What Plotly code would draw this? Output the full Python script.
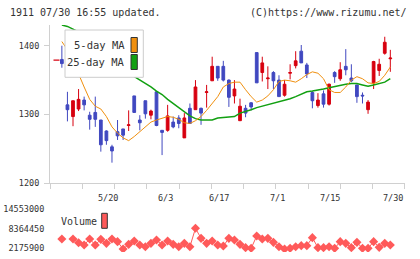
import plotly.graph_objects as go

# ---------------- data ----------------
idx = list(range(1, 61))
opens = [1380, 1314, 1297, 1308, 1321, 1299, 1303, 1292, 1276, 1253,
         1275, 1279, 1284, 1327, 1292, 1320, 1299, 1333, 1277, 1277,
         1289, 1295, 1266, 1309, 1307, 1309, 1332, 1349, 1370, 1370,
         1350, 1327, 1291, 1309, 1317, 1390, 1361, 1352, 1361, 1350,
         1328, 1360, 1371, 1392, 1372, 1332, 1313, 1330, 1315, 1361,
         1352, 1370, 1353, 1343, 1328, 1307, 1346, 1364, 1389, 1381]
highs = [1400, 1333, 1320, 1337, 1326, 1304, 1326, 1292, 1277, 1256,
         1292, 1279, 1306, 1327, 1299, 1320, 1307, 1334, 1277, 1314,
         1297, 1299, 1302, 1316, 1350, 1310, 1343, 1384, 1370, 1378,
         1351, 1350, 1323, 1314, 1318, 1390, 1384, 1370, 1363, 1357,
         1350, 1373, 1392, 1401, 1375, 1334, 1331, 1335, 1345, 1363,
         1376, 1395, 1373, 1343, 1332, 1321, 1378, 1381, 1413, 1394]
lows = [1368, 1290, 1283, 1305, 1306, 1278, 1282, 1246, 1256, 1230,
        1263, 1263, 1276, 1303, 1277, 1294, 1293, 1283, 1241, 1275,
        1280, 1280, 1266, 1287, 1307, 1285, 1310, 1349, 1349, 1348,
        1311, 1316, 1291, 1296, 1306, 1346, 1348, 1337, 1337, 1326,
        1326, 1351, 1367, 1375, 1353, 1309, 1310, 1310, 1313, 1346,
        1349, 1357, 1347, 1317, 1316, 1301, 1337, 1356, 1387, 1362]
closes = [1374, 1307, 1320, 1322, 1314, 1293, 1293, 1256, 1262, 1247,
          1269, 1270, 1285, 1303, 1288, 1301, 1305, 1284, 1274, 1298,
          1282, 1287, 1295, 1287, 1340, 1302, 1333, 1370, 1353, 1350,
          1325, 1337, 1312, 1302, 1311, 1346, 1375, 1353, 1349, 1326,
          1344, 1361, 1378, 1375, 1359, 1320, 1321, 1315, 1344, 1355,
          1365, 1365, 1349, 1326, 1327, 1318, 1377, 1373, 1405, 1382]
ma5 = [1406, 1394, 1378, 1358, 1340, 1322, 1312, 1308, 1297, 1282,
       1273, 1266, 1262, 1268, 1275, 1283, 1289, 1292, 1295, 1297,
       1296, 1293, 1288, 1287, 1291, 1297, 1306, 1316, 1326, 1340,
       1345, 1347, 1347, 1336, 1326, 1318, 1321, 1327, 1336, 1348,
       1350, 1349, 1347, 1352, 1358, 1362, 1360, 1352, 1336, 1332,
       1332, 1340, 1350, 1355, 1352, 1346, 1345, 1348, 1357, 1369]
ma25 = [1430, 1428, 1424, 1420, 1414, 1407, 1400, 1393, 1386, 1379,
        1372, 1366, 1360, 1355, 1351, 1346, 1340, 1334, 1329, 1322,
        1316, 1310, 1304, 1298, 1294, 1292, 1292, 1292, 1295, 1296,
        1296, 1297, 1302, 1304, 1307, 1310, 1312, 1314, 1317, 1318,
        1320, 1323, 1326, 1329, 1333, 1334, 1335, 1337, 1339, 1341,
        1342, 1344, 1345, 1345, 1343, 1341, 1343, 1345, 1347, 1352]
volume = [5170000, None, 5170000, 4010000, 3280000, 5170000, 3280000, 5060000, 3800000, 5170000,
          4330000, 2020000, 3490000, 4540000, 3280000, 2750000, 3800000, 4850000, 3280000, 4540000,
          3490000, 2750000, 3800000, 2750000, 8530000, 5380000, 3800000, 4540000, 3280000, 2960000,
          5380000, 4850000, 3490000, 2440000, 2230000, 6110000, 5170000, 5380000, 4120000, 2750000,
          2020000, 2230000, 2750000, 3070000, 3070000, 5590000, 2440000, 2440000, 2750000, 2230000,
          4330000, 3800000, 2440000, 4120000, 2230000, 2230000, 4330000, 2540000, 3800000, 3280000]
current_price = 1379
date_labels = ["5/20", "6/3", "6/17", "7/1", "7/15", "7/30"]
date_label_idx = [11, 21, 31, 41, 51, 60]
price_ticks = [1200, 1300, 1400]
volume_ticks = [2175900, 8364450, 14553000]
title_left = "1911 07/30 16:55 updated."
title_right = "(C)https://www.rizumu.net/"
legend_names = ["5-day MA", "25-day MA"]

# ---------------- style ----------------
W, H = 420, 259
FONT = "DejaVu Sans Mono"
TXT = "#333333"
AX = "#d0d0d0"
RED = "#d7000f"
BLUE = "#4048c0"
ORANGE = "#f0900f"
GREEN = "#12a012"
VOLC = "#ff5a5a"

def fx(px):
    return px / W

def fy(py):
    return 1 - py / H

step = 5.567
x_lo = (50 - 56.3) / step
x_hi = (405 - 56.3) / step
grid_ticks = [x_lo + k * (x_hi - x_lo) / 11 for k in range(12)]
grid_ticks[0] += 0.001
grid_ticks[-1] -= 0.001

fig = go.Figure()
fig.add_trace(go.Scatter(x=idx, y=ma25, mode="lines", line=dict(color=GREEN, width=1.5),
                         hoverinfo="skip", showlegend=False))
fig.add_trace(go.Scatter(x=idx, y=ma5, mode="lines", line=dict(color=ORANGE, width=1),
                         hoverinfo="skip", showlegend=False))
fig.add_trace(go.Candlestick(x=idx, open=opens, high=highs, low=lows, close=closes,
                             increasing=dict(line=dict(color=RED, width=1), fillcolor=RED),
                             decreasing=dict(line=dict(color=BLUE, width=1), fillcolor=BLUE),
                             whiskerwidth=0, hoverinfo="skip", showlegend=False))
fig.add_trace(go.Scatter(x=idx, y=volume, mode="lines+markers", xaxis="x2", yaxis="y2",
                         line=dict(color=VOLC, width=1),
                         marker=dict(symbol="diamond", size=7, color=VOLC),
                         hoverinfo="skip", showlegend=False))

y_top_px, y_bot_px = 25, 183.3
pxper = 0.688  # px per yen
fig.update_layout(
    template="none",
    width=W, height=H, margin=dict(l=0, r=0, t=0, b=0, pad=0), autosize=False,
    paper_bgcolor="white", plot_bgcolor="white",
    font=dict(family=FONT, size=9, color=TXT),
    showlegend=False, boxgap=0.3,
    xaxis=dict(domain=[fx(50), fx(405)], range=[x_lo, x_hi], anchor="y", automargin=False,
               showgrid=False, zeroline=False, showline=True, linecolor=AX, linewidth=1,
               ticks="outside", ticklen=5, tickcolor=AX, tickwidth=1, tickvals=grid_ticks,
               ticktext=[""] * len(grid_ticks), rangeslider=dict(visible=False)),
    yaxis=dict(domain=[fy(y_bot_px), fy(y_top_px)], automargin=False,
               range=[1200, 1200 + (y_bot_px - y_top_px) / pxper], anchor="x",
               showgrid=False, zeroline=False, showline=True, linecolor=AX, linewidth=1,
               ticks="outside", ticklen=5, tickcolor=AX, tickwidth=1, tickvals=price_ticks,
               ticklabelstandoff=3,
               tickfont=dict(family=FONT, size=8.5, color=TXT)),
    xaxis2=dict(domain=[fx(50), fx(405)], range=[x_lo, x_hi], anchor="y2", visible=False,
                automargin=False),
    yaxis2=dict(domain=[fy(252), fy(205)], range=[1073610, 15875748], anchor="x2",
                automargin=False, showgrid=False, zeroline=False, showline=False,
                ticks="outside", ticklen=3, tickcolor="rgba(0,0,0,0)",
                tickvals=volume_ticks, ticktext=[str(v) for v in volume_ticks],
                tickfont=dict(family=FONT, size=8.5, color=TXT)),
)

ann = []
ann.append(dict(text=title_left, xref="paper", yref="paper", x=fx(8), y=fy(12.5),
                xanchor="left", yanchor="middle", showarrow=False,
                font=dict(family=FONT, size=10, color=TXT)))
ann.append(dict(text=title_right, xref="paper", yref="paper", x=fx(409), y=fy(12.5),
                xanchor="right", yanchor="middle", showarrow=False,
                font=dict(family=FONT, size=10, color=TXT)))
for i, (lab, xi) in enumerate(zip(date_labels, date_label_idx)):
    last = i == len(date_labels) - 1
    ann.append(dict(text=lab, xref="x", yref="paper", x=x_hi if last else xi, y=fy(197.5),
                    xanchor="right", yanchor="middle", xshift=0 if last else 2,
                    showarrow=False, font=dict(family=FONT, size=8.5, color=TXT)))
shapes = [dict(type="rect", xref="paper", yref="paper", x0=fx(65), x1=fx(143.3),
               y0=fy(77.3), y1=fy(30), fillcolor="white", line=dict(color="#cccccc", width=1),
               layer="above")]
for name, col, cy in zip(legend_names, [ORANGE, GREEN], [45, 62]):
    ann.append(dict(text=name, xref="paper", yref="paper", x=fx(126.5), y=fy(cy),
                    xanchor="right", yanchor="middle", showarrow=False,
                    font=dict(family=FONT, size=10.5, color=TXT)))
    shapes.append(dict(type="rect", xref="paper", yref="paper", x0=fx(131), x1=fx(137.3),
                       y0=fy(cy + 7.5), y1=fy(cy - 7.5), fillcolor=col,
                       line=dict(color="#333333", width=1), layer="above"))
ann.append(dict(text="Volume", xref="paper", yref="paper", x=fx(58.5), y=fy(221.5),
                xanchor="left", yanchor="middle", showarrow=False,
                font=dict(family=FONT, size=10, color=TXT)))
shapes.append(dict(type="rect", xref="paper", yref="paper", x0=fx(101.7), x1=fx(107.3),
                   y0=fy(228.3), y1=fy(213.3), fillcolor=VOLC,
                   line=dict(color="#333333", width=1), layer="above"))
shapes.append(dict(type="line", xref="paper", yref="y", x0=fx(53.5), x1=fx(59.5),
                   y0=current_price, y1=current_price, line=dict(color=RED, width=1.2)))
fig.update_layout(annotations=ann, shapes=shapes)

fig.write_html("out.html", config={"displayModeBar": False})
